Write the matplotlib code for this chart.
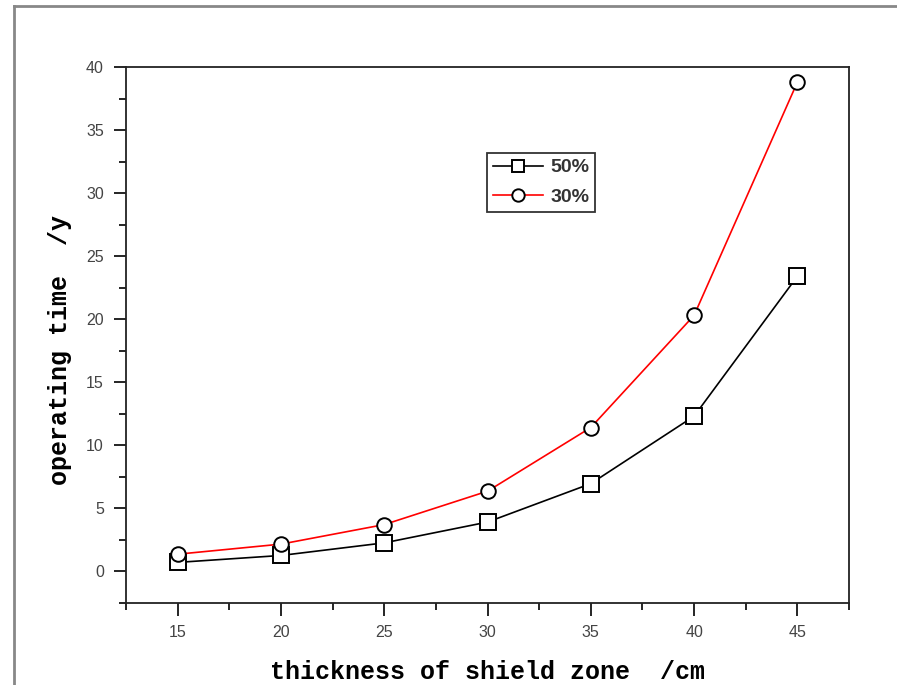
import matplotlib
matplotlib.use("Agg")
import matplotlib.pyplot as plt
from matplotlib.lines import Line2D
from matplotlib.ticker import MultipleLocator

thickness = [15, 20, 25, 30, 35, 40, 45]
time_50 = [0.7, 1.25, 2.25, 3.9, 6.95, 12.3, 23.4]
time_30 = [1.35, 2.15, 3.7, 6.35, 11.4, 20.3, 38.8]
labels = ["50%", "30%"]

fig = plt.figure(figsize=(8.97, 6.85), dpi=100)
ax = fig.add_axes([0.1405, 0.1201, 0.806, 0.782])

ax.plot(thickness, time_50, color="black", lw=1.2, marker="s", ms=11,
        mfc="white", mec="black", mew=1.4, label=labels[0])
ax.plot(thickness, time_30, color="#ff0000", lw=1.2, marker="o", ms=10.5,
        mfc="white", mec="black", mew=1.4, label=labels[1])

ax.set_xlim(12.5, 47.5)
ax.set_ylim(-2.5, 40)
ax.xaxis.set_major_locator(MultipleLocator(5))
ax.xaxis.set_minor_locator(MultipleLocator(2.5))
ax.yaxis.set_major_locator(MultipleLocator(5))
ax.yaxis.set_minor_locator(MultipleLocator(2.5))
ax.tick_params(which="major", direction="out", length=9, width=1.2,
               labelsize=11.5, labelcolor="#444444", pad=7,
               top=False, right=False)
ax.tick_params(which="minor", direction="out", length=5, width=1.2,
               top=False, right=False)
for lbl in ax.get_xticklabels() + ax.get_yticklabels():
    lbl.set_family("Liberation Sans")
for s in ax.spines.values():
    s.set_linewidth(1.3)
    s.set_color("#222222")

ax.set_xlabel("thickness of shield zone  /cm", family="Liberation Mono",
              fontweight="bold", fontsize=18)
ax.set_ylabel("operating time  /y", family="Liberation Mono",
              fontweight="bold", fontsize=18)
ax.xaxis.set_label_coords(0.5, -0.129)
ax.xaxis.label.set_va("center")
ax.yaxis.set_label_coords(-0.0913, 0.472)
ax.yaxis.label.set_va("center")

leg = ax.legend(loc="upper left", bbox_to_anchor=(0.4993, 0.8395),
                frameon=True, fancybox=False, edgecolor="black",
                prop={"family": "Liberation Sans", "weight": "bold", "size": 14},
                handlelength=2.6, handletextpad=0.35, borderpad=0.3,
                borderaxespad=0, labelspacing=0.6, markerscale=0.85)
leg.get_frame().set_linewidth(1.3)
for t in leg.get_texts():
    t.set_color("#333333")

# outer gray frame
fig.add_artist(Line2D([14/897, 14/897], [0, 1 - 6/685], color="#888888",
                      lw=2, transform=fig.transFigure))
fig.add_artist(Line2D([14/897, 1], [1 - 6/685, 1 - 6/685], color="#888888",
                      lw=2, transform=fig.transFigure))

fig.savefig("out.png", dpi=100)
